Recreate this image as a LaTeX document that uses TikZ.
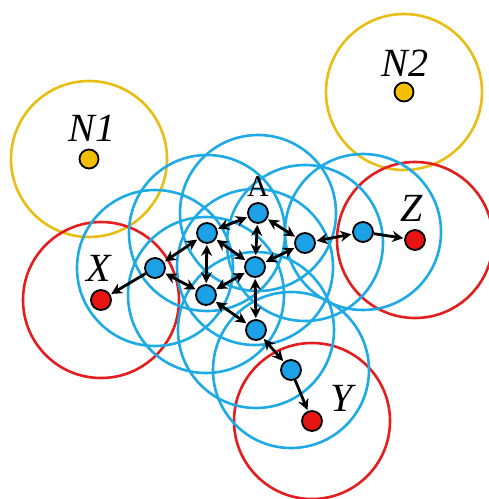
\documentclass[tikz,border=0pt]{standalone}
\usepackage{fontspec}
\setmainfont{Liberation Serif}
\usetikzlibrary{arrows.meta}
\definecolor{cblue}{RGB}{30,170,228}
\definecolor{cred}{RGB}{228,30,30}
\definecolor{cyel}{RGB}{232,190,20}
\definecolor{fblue}{RGB}{28,160,230}
\definecolor{fred}{RGB}{232,20,20}
\definecolor{fyel}{RGB}{242,190,0}
\tikzset{
  rangecirc/.style={line width=2.6pt, minimum size=156pt, circle, inner sep=0pt},
  bnode/.style={circle, draw=black, line width=1.8pt, fill=fblue, minimum size=20pt, inner sep=0pt},
  rnode/.style={circle, draw=black, line width=1.8pt, fill=fred, minimum size=20pt, inner sep=0pt},
  ynode/.style={circle, draw=black, line width=1.8pt, fill=fyel, minimum size=19pt, inner sep=0pt},
  lab/.style={font=\fontsize{40}{40}\selectfont\itshape, inner sep=0pt},
  biarrow/.style={line width=2.8pt, {Stealth[length=11pt,width=11pt]}-{Stealth[length=11pt,width=11pt]}, shorten <=1pt, shorten >=1pt},
  oarrow/.style={line width=2.8pt, -{Stealth[length=11pt,width=11pt]}, shorten >=1pt}
}
\begin{document}
\begin{tikzpicture}[x=1pt,y=-1pt]
\useasboundingbox (0,0) rectangle (489,499);
% coordinates
\coordinate (pN1) at (89,159);
\coordinate (pN2) at (404,92);
\coordinate (pA) at (258,213);
\coordinate (pB) at (207,233);
\coordinate (pC) at (305,243);
\coordinate (pZn) at (363,232);
\coordinate (pZ) at (415,240);
\coordinate (pD) at (255,267);
\coordinate (pXn) at (155,268);
\coordinate (pX) at (101,300);
\coordinate (pE) at (206,295);
\coordinate (pF) at (256,330);
\coordinate (pG) at (291,370);
\coordinate (pY) at (312,421);
% range circles
\node[rangecirc, draw=cyel] (cN1) at (pN1) {};
\node[rangecirc, draw=cyel] (cN2) at (pN2) {};
\node[rangecirc, draw=cred] (cX) at (pX) {};
\node[rangecirc, draw=cred] (cZ) at (pZ) {};
\node[rangecirc, draw=cred] (cY) at (pY) {};
\foreach \n in {A,B,C,Zn,D,Xn,E,F,G}{
  \node[rangecirc, draw=cblue] (c\n) at (p\n) {};
}
% nodes
\node[ynode] (N1) at (pN1) {};
\node[ynode] (N2) at (pN2) {};
\node[bnode] (A) at (pA) {};
\node[bnode] (B) at (pB) {};
\node[bnode] (C) at (pC) {};
\node[bnode] (Zn) at (pZn) {};
\node[bnode] (D) at (pD) {};
\node[bnode] (Xn) at (pXn) {};
\node[bnode] (E) at (pE) {};
\node[bnode] (F) at (pF) {};
\node[bnode] (G) at (pG) {};
\node[rnode] (X) at (pX) {};
\node[rnode] (Z) at (pZ) {};
\node[rnode] (Y) at (pY) {};
% labels
\node[lab] (lN1) at (92,128) {N1};
\node[lab] (lN2) at (405,63) {N2};
\node[lab] (lX) at (99,268) {X};
\node[lab] (lZ) at (412,208) {Z};
\node[lab] (lY) at (342,398) {Y};
\node[font=\fontsize{30}{30}\selectfont, inner sep=0pt] (lA) at (258,187) {A};
% connectors
\draw[biarrow] (A) -- (B);
\draw[biarrow] (A) -- (D);
\draw[biarrow] (A) -- (C);
\draw[biarrow] (B) -- (D);
\draw[biarrow] (B) -- (E);
\draw[biarrow] (B) -- (Xn);
\draw[biarrow] (Xn) -- (E);
\draw[biarrow] (E) -- (D);
\draw[biarrow] (C) -- (D);
\draw[biarrow] (D) -- (F);
\draw[biarrow] (E) -- (F);
\draw[biarrow] (C) -- (Zn);
\draw[biarrow] (F) -- (G);
\draw[oarrow] (Zn) -- (Z);
\draw[oarrow] (Xn) -- (X);
\draw[oarrow] (G) -- (Y);
\end{tikzpicture}
\end{document}
